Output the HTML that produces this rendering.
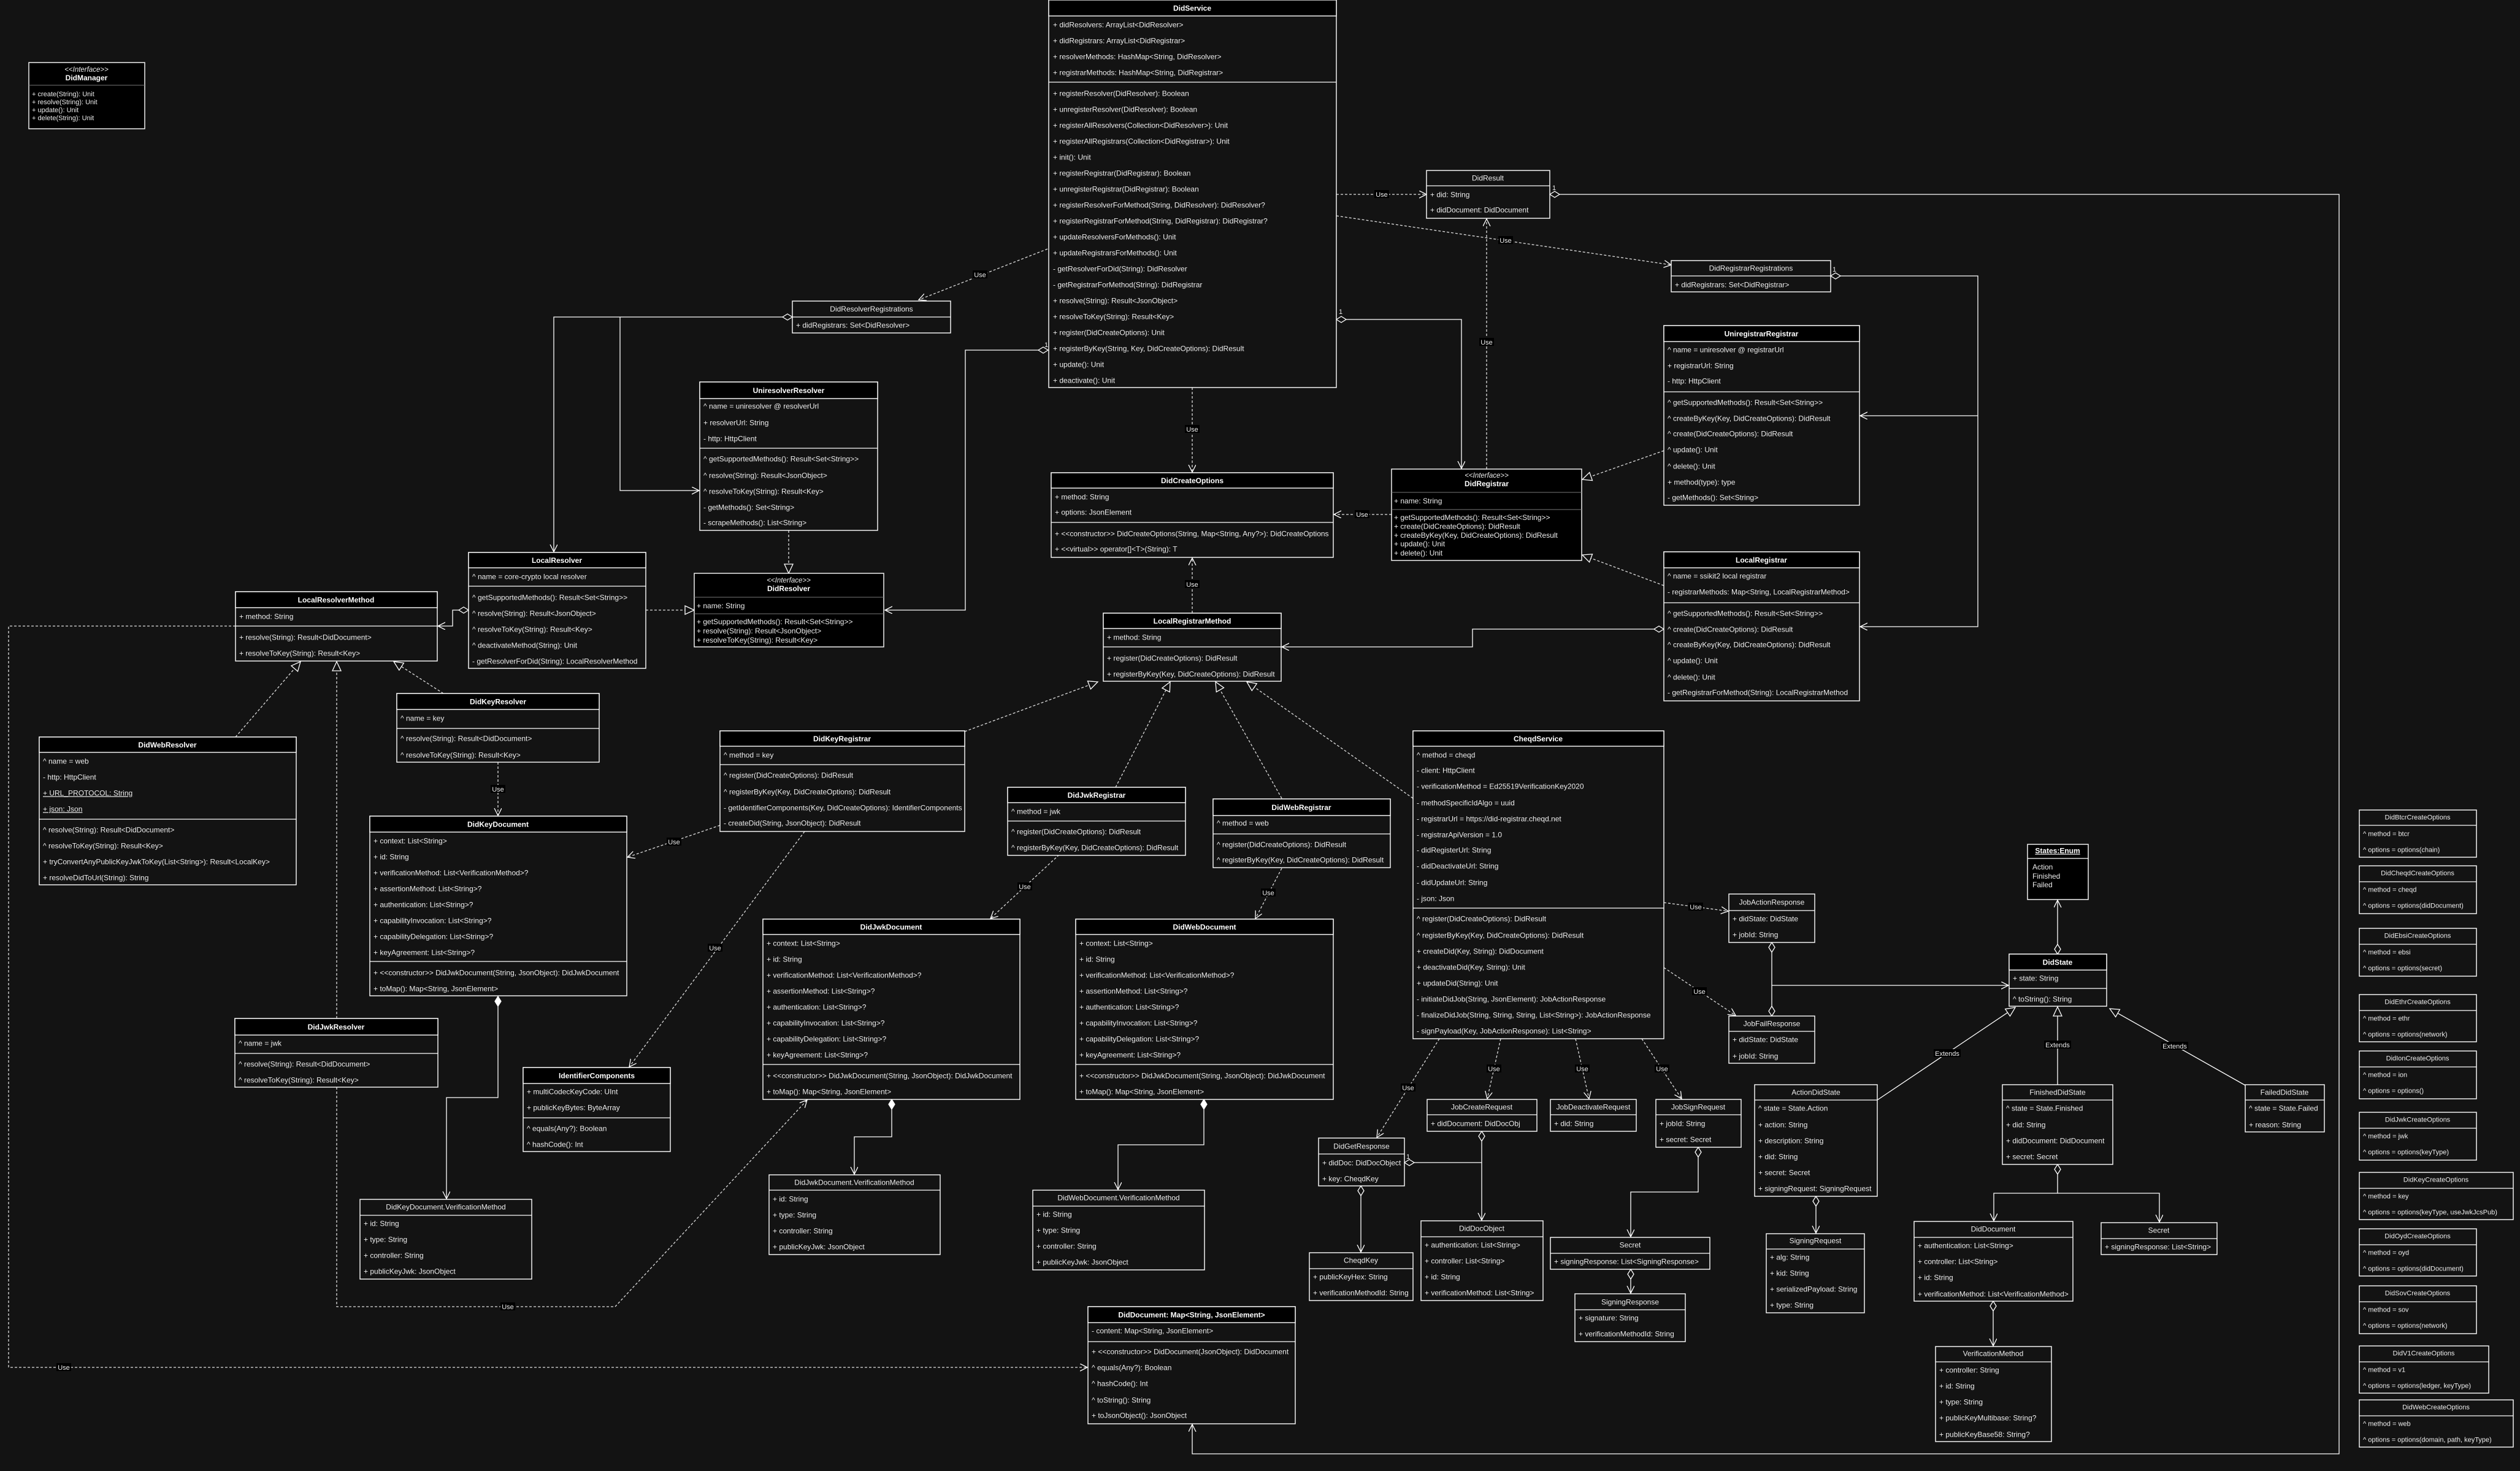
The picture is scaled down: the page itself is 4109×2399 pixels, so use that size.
<!DOCTYPE html>
<html><head><meta charset="utf-8"><style>
html,body{margin:0;padding:0;background:#131313;}
svg{display:block;}
text{font-family:"Liberation Sans",Arial,sans-serif;font-size:12px;fill:#ececec;}
.t{font-weight:bold;text-anchor:middle;fill:#fff;}
.c{text-anchor:middle;}
.bx{fill:#131313;stroke:#fff;stroke-width:1.4;}
.bk{fill:#000;stroke:#fff;stroke-width:1.4;}
.hd{fill:#000;stroke:#fff;stroke-width:1.4;}
.sp{stroke:#fff;stroke-width:1.3;}
.gl{stroke:#777;stroke-width:1;}
.s{fill:none;stroke:#fff;stroke-width:1.3;}
.d{fill:none;stroke:#ddd;stroke-width:1.3;stroke-dasharray:4 3;}
.lb{fill:#000;}
.lt{font-size:11px;text-anchor:middle;}
.one{font-size:11px;}
.sm{font-size:11px;}
.it{font-style:italic;text-anchor:middle;font-size:11.5px;}
.op text{font-size:11px;}
</style></head><body>
<svg width="4109" height="2399" viewBox="0 0 4109 2399" xmlns="http://www.w3.org/2000/svg">
<defs>
<marker id="oa" markerUnits="userSpaceOnUse" markerWidth="14" markerHeight="14" refX="12" refY="6" orient="auto"><path d="M0,0 L12,6 L0,12" fill="none" stroke="#fff" stroke-width="1.3"/></marker>
<marker id="tri" markerUnits="userSpaceOnUse" markerWidth="18" markerHeight="18" refX="16" refY="8" orient="auto"><path d="M1,1 L16,8 L1,15 z" fill="#131313" stroke="#fff" stroke-width="1.3"/></marker>
<marker id="dia" markerUnits="userSpaceOnUse" markerWidth="20" markerHeight="14" refX="1" refY="6" orient="auto"><path d="M1,6 L9,1 L17,6 L9,11 z" fill="#131313" stroke="#fff" stroke-width="1.3"/></marker>
<marker id="diae" markerUnits="userSpaceOnUse" markerWidth="20" markerHeight="14" refX="17" refY="6" orient="auto"><path d="M1,6 L9,1 L17,6 L9,11 z" fill="#131313" stroke="#fff" stroke-width="1.3"/></marker>
<marker id="fdia" markerUnits="userSpaceOnUse" markerWidth="20" markerHeight="14" refX="1" refY="6" orient="auto"><path d="M1,6 L9,1 L17,6 L9,11 z" fill="#fff" stroke="#fff" stroke-width="1.3"/></marker>
</defs>
<rect width="4109" height="2399" fill="#131313"/>

<path class="d" d="M2179,317 H2326" marker-end="url(#oa)"/>
<path class="d" d="M2179,352 L2725,432" marker-end="url(#oa)"/>
<path class="d" d="M2424,765 V357" marker-end="url(#oa)"/>
<path class="s" d="M2527,317 H3814 V2371 H1944 V2323" marker-start="url(#dia)" marker-end="url(#oa)"/>
<path class="s" d="M2179,521 H2383 V764" marker-start="url(#dia)" marker-end="url(#oa)"/>
<path class="d" d="M1708,406 L1498,489" marker-end="url(#oa)"/>
<path class="s" d="M1292,517 H903 V900" marker-start="url(#dia)" marker-end="url(#oa)"/>
<path class="s" d="M1011,517 V800 H1140" marker-end="url(#oa)"/>
<path class="s" d="M1709,571 H1574 V995 H1443" marker-start="url(#dia)" marker-end="url(#oa)"/>
<path class="d" d="M1286,865 V935" marker-end="url(#tri)"/>
<path class="d" d="M1053,995 H1132" marker-end="url(#tri)"/>
<path class="s" d="M764,995 H738 V1021 H714" marker-start="url(#dia)" marker-end="url(#oa)"/>
<path class="d" d="M384,1202 L490,1079" marker-end="url(#tri)"/>
<path class="d" d="M549,1661 V1079" marker-end="url(#tri)"/>
<path class="d" d="M723,1131 L642,1079" marker-end="url(#tri)"/>
<path class="d" d="M812,1243 V1330" marker-end="url(#oa)"/>
<path class="d" d="M384,1021 H14 V2230 H1773" marker-end="url(#oa)"/>
<path class="d" d="M549,1773 V2131 H1003 L1316,1794" marker-end="url(#oa)"/>
<path class="s" d="M812,1625 V1790 H728 V1955" marker-start="url(#fdia)" marker-end="url(#oa)"/>
<path class="s" d="M1454,1793 V1854 H1393 V1915" marker-start="url(#fdia)" marker-end="url(#oa)"/>
<path class="s" d="M1963,1793 V1867 H1823 V1940" marker-start="url(#fdia)" marker-end="url(#oa)"/>
<path class="d" d="M1174,1346 L1023,1398" marker-end="url(#oa)"/>
<path class="d" d="M1312,1356 L1026,1740" marker-end="url(#oa)"/>
<path class="d" d="M1573,1193 L1790,1112" marker-end="url(#tri)"/>
<path class="d" d="M1819,1284 L1908,1112" marker-end="url(#tri)"/>
<path class="d" d="M2090,1302 L1982,1112" marker-end="url(#tri)"/>
<path class="d" d="M2304,1302 L2033,1112" marker-end="url(#tri)"/>
<path class="d" d="M1944,1000 V910" marker-end="url(#oa)"/>
<path class="d" d="M1944,632 V770" marker-end="url(#oa)"/>
<path class="d" d="M2269,839 H2175" marker-end="url(#oa)"/>
<path class="s" d="M2713,1026 H2401 V1055 H2090" marker-start="url(#dia)" marker-end="url(#oa)"/>
<path class="d" d="M2713,735 L2580,782" marker-end="url(#tri)"/>
<path class="d" d="M2713,955 L2580,905" marker-end="url(#tri)"/>
<path class="s" d="M2985,450 H3225 V1022 H3033" marker-start="url(#dia)" marker-end="url(#oa)"/>
<path class="s" d="M3225,678 H3033" marker-end="url(#oa)"/>
<path class="d" d="M2713,1472 L2818,1486" marker-end="url(#oa)"/>
<path class="d" d="M2713,1578 L2830,1656" marker-end="url(#oa)"/>
<path class="s" d="M2889,1537 V1657" marker-start="url(#dia)" marker-end="url(#diae)"/>
<path class="s" d="M2889,1607 H3275" marker-end="url(#oa)"/>
<path class="d" d="M2347,1694 L2245,1855" marker-end="url(#oa)"/>
<path class="d" d="M2447,1694 L2425,1792" marker-end="url(#oa)"/>
<path class="d" d="M2569,1694 L2591,1792" marker-end="url(#oa)"/>
<path class="d" d="M2677,1694 L2742,1792" marker-end="url(#oa)"/>
<path class="s" d="M2416,1845 V1990" marker-start="url(#dia)" marker-end="url(#oa)"/>
<path class="s" d="M2290,1896 H2416" marker-start="url(#dia)"/>
<path class="s" d="M2219,1934 V2042" marker-start="url(#dia)" marker-end="url(#oa)"/>
<path class="s" d="M2769,1871 V1944 H2659 V2017" marker-start="url(#dia)" marker-end="url(#oa)"/>
<path class="s" d="M2659,2070 V2109" marker-start="url(#dia)" marker-end="url(#oa)"/>
<path class="s" d="M2961,1951 V2011" marker-start="url(#dia)" marker-end="url(#oa)"/>
<path class="s" d="M3061,1794 L3286,1643" marker-end="url(#tri)"/>
<path class="s" d="M3355,1769 V1642" marker-end="url(#tri)"/>
<path class="s" d="M3661,1770 L3440,1645" marker-end="url(#tri)"/>
<path class="s" d="M3355,1556 V1468" marker-start="url(#dia)" marker-end="url(#oa)"/>
<path class="s" d="M3355,1899 V1946 H3251 V1991" marker-start="url(#dia)" marker-end="url(#oa)"/>
<path class="s" d="M3355,1946 H3521 V1993" marker-end="url(#oa)"/>
<path class="s" d="M3250,2122 V2195" marker-start="url(#dia)" marker-end="url(#oa)"/>
<path class="d" d="M1727,1394 L1615,1498" marker-end="url(#oa)"/>
<path class="d" d="M2090,1416 L2047,1498" marker-end="url(#oa)"/>

<g>
<rect class="lb" x="2241" y="310" width="24" height="13"/><text class="lt" x="2253" y="321">Use</text>
<rect class="lb" x="2443" y="385" width="24" height="13"/><text class="lt" x="2455" y="396">Use</text>
<rect class="lb" x="2412" y="551" width="24" height="13"/><text class="lt" x="2424" y="562">Use</text>
<rect class="lb" x="1586" y="441" width="24" height="13"/><text class="lt" x="1598" y="452">Use</text>
<rect class="lb" x="800" y="1280" width="24" height="13"/><text class="lt" x="812" y="1291">Use</text>
<rect class="lb" x="92" y="2223" width="24" height="13"/><text class="lt" x="104" y="2234">Use</text>
<rect class="lb" x="816" y="2124" width="24" height="13"/><text class="lt" x="828" y="2135">Use</text>
<rect class="lb" x="1087" y="1366" width="24" height="13"/><text class="lt" x="1099" y="1377">Use</text>
<rect class="lb" x="1154" y="1539" width="24" height="13"/><text class="lt" x="1166" y="1550">Use</text>
<rect class="lb" x="1932" y="946" width="24" height="13"/><text class="lt" x="1944" y="957">Use</text>
<rect class="lb" x="1932" y="693" width="24" height="13"/><text class="lt" x="1944" y="704">Use</text>
<rect class="lb" x="2209" y="832" width="24" height="13"/><text class="lt" x="2221" y="843">Use</text>
<rect class="lb" x="2753" y="1472" width="24" height="13"/><text class="lt" x="2765" y="1483">Use</text>
<rect class="lb" x="2759" y="1610" width="24" height="13"/><text class="lt" x="2771" y="1621">Use</text>
<rect class="lb" x="2284" y="1767" width="24" height="13"/><text class="lt" x="2296" y="1778">Use</text>
<rect class="lb" x="2424" y="1736" width="24" height="13"/><text class="lt" x="2436" y="1747">Use</text>
<rect class="lb" x="2568" y="1736" width="24" height="13"/><text class="lt" x="2580" y="1747">Use</text>
<rect class="lb" x="2698" y="1736" width="24" height="13"/><text class="lt" x="2710" y="1747">Use</text>
<rect class="lb" x="1659" y="1439" width="24" height="13"/><text class="lt" x="1671" y="1450">Use</text>
<rect class="lb" x="2056" y="1449" width="24" height="13"/><text class="lt" x="2068" y="1460">Use</text>
<rect class="lb" x="3153" y="1711" width="44" height="13"/><text class="lt" x="3175" y="1722">Extends</text>
<rect class="lb" x="3333" y="1697" width="44" height="13"/><text class="lt" x="3355" y="1708">Extends</text>
<rect class="lb" x="3524" y="1699" width="44" height="13"/><text class="lt" x="3546" y="1710">Extends</text>
<text class="one" x="2531" y="310">1</text>
<text class="one" x="2183" y="512">1</text>
<text class="one" x="1295" y="510">1</text>
<text class="one" x="1703" y="566">1</text>
<text class="one" x="766" y="990">1</text>
<text class="one" x="2716" y="1020">1</text>
<text class="one" x="2988" y="443">1</text>
<text class="one" x="2293" y="1890">1</text>
<text class="one" x="820" y="1617">1</text>
<text class="one" x="1461" y="1787">1</text>
<text class="one" x="1970" y="1787">1</text>
</g>

<g transform="translate(47,102)">
<rect class="bk" width="189" height="108"/>
<text class="it" x="94" y="15">&lt;&lt;Interface&gt;&gt;</text>
<text class="t" x="94" y="29">DidManager</text>
<line class="gl" x1="0" y1="37" x2="189" y2="37"/>
<text class="sm" x="5" y="55">+ create(String): Unit</text>
<text class="sm" x="5" y="68">+ resolve(String): Unit</text>
<text class="sm" x="5" y="81">+ update(): Unit</text>
<text class="sm" x="5" y="94">+ delete(String): Unit</text>
</g>

<g transform="translate(1710,0)">
<rect class="bx" width="469" height="632"/><rect class="hd" width="469" height="26"/>
<text class="t" x="234" y="17.5">DidService</text>
<text x="7" y="44.5">+ didResolvers: ArrayList&lt;DidResolver&gt;</text>
<text x="7" y="70.5">+ didRegistrars: ArrayList&lt;DidRegistrar&gt;</text>
<text x="7" y="96.5">+ resolverMethods: HashMap&lt;String, DidResolver&gt;</text>
<text x="7" y="122.5">+ registrarMethods: HashMap&lt;String, DidRegistrar&gt;</text>
<line class="sp" x1="0" y1="134" x2="469" y2="134"/>
<text x="7" y="156.5">+ registerResolver(DidResolver): Boolean</text>
<text x="7" y="182.5">+ unregisterResolver(DidResolver): Boolean</text>
<text x="7" y="208.5">+ registerAllResolvers(Collection&lt;DidResolver&gt;): Unit</text>
<text x="7" y="234.5">+ registerAllRegistrars(Collection&lt;DidRegistrar&gt;): Unit</text>
<text x="7" y="260.5">+ init(): Unit</text>
<text x="7" y="286.5">+ registerRegistrar(DidRegistrar): Boolean</text>
<text x="7" y="312.5">+ unregisterRegistrar(DidRegistrar): Boolean</text>
<text x="7" y="338.5">+ registerResolverForMethod(String, DidResolver): DidResolver?</text>
<text x="7" y="364.5">+ registerRegistrarForMethod(String, DidRegistrar): DidRegistrar?</text>
<text x="7" y="390.5">+ updateResolversForMethods(): Unit</text>
<text x="7" y="416.5">+ updateRegistrarsForMethods(): Unit</text>
<text x="7" y="442.5">- getResolverForDid(String): DidResolver</text>
<text x="7" y="468.5">- getRegistrarForMethod(String): DidRegistrar</text>
<text x="7" y="494.5">+ resolve(String): Result&lt;JsonObject&gt;</text>
<text x="7" y="520.5">+ resolveToKey(String): Result&lt;Key&gt;</text>
<text x="7" y="546.5">+ register(DidCreateOptions): Unit</text>
<text x="7" y="572.5">+ registerByKey(String, Key, DidCreateOptions): DidResult</text>
<text x="7" y="598.5">+ update(): Unit</text>
<text x="7" y="624.5">+ deactivate(): Unit</text>
</g>

<g transform="translate(1292,491)">
<rect class="bx" width="258" height="52"/>
<text class="c" x="129" y="17">DidResolverRegistrations</text>
<line class="sp" x1="0" y1="26" x2="258" y2="26"/>
<text x="6" y="43.5">+ didRegistrars: Set&lt;DidResolver&gt;</text>
</g>

<g transform="translate(1141,623)">
<rect class="bx" width="290" height="242"/><rect class="hd" width="290" height="27"/>
<text class="t" x="145" y="18">UniresolverResolver</text>
<text x="6" y="43.5">^ name = uniresolver @ resolverUrl</text>
<text x="6" y="70.5">+ resolverUrl: String</text>
<text x="6" y="96.5">- http: HttpClient</text>
<line class="sp" x1="0" y1="108" x2="290" y2="108"/>
<text x="6" y="129.5">^ getSupportedMethods(): Result&lt;Set&lt;String&gt;&gt;</text>
<text x="6" y="156.5">^ resolve(String): Result&lt;JsonObject&gt;</text>
<text x="6" y="182.5">^ resolveToKey(String): Result&lt;Key&gt;</text>
<text x="6" y="208.5">- getMethods(): Set&lt;String&gt;</text>
<text x="6" y="233.5">- scrapeMethods(): List&lt;String&gt;</text>
</g>

<g transform="translate(764,901)">
<rect class="bx" width="289" height="189"/><rect class="hd" width="289" height="25"/>
<text class="t" x="144" y="17">LocalResolver</text>
<text x="6" y="43.5">^ name = core-crypto local resolver</text>
<line class="sp" x1="0" y1="55" x2="289" y2="55"/>
<text x="6" y="77.5">^ getSupportedMethods(): Result&lt;Set&lt;String&gt;&gt;</text>
<text x="6" y="103.5">^ resolve(String): Result&lt;JsonObject&gt;</text>
<text x="6" y="129.5">^ resolveToKey(String): Result&lt;Key&gt;</text>
<text x="6" y="155.5">^ deactivateMethod(String): Unit</text>
<text x="6" y="181.5">- getResolverForDid(String): LocalResolverMethod</text>
</g>

<g transform="translate(1132,935)">
<rect class="bk" width="309" height="120"/>
<text class="it" x="154" y="15">&lt;&lt;Interface&gt;&gt;</text>
<text class="t" x="154" y="29">DidResolver</text>
<line class="gl" x1="0" y1="39" x2="309" y2="39"/>
<text x="4" y="57">+ name: String</text>
<line class="gl" x1="0" y1="66" x2="309" y2="66"/>
<text x="4" y="83">+ getSupportedMethods(): Result&lt;Set&lt;String&gt;&gt;</text>
<text x="4" y="98">+ resolve(String): Result&lt;JsonObject&gt;</text>
<text x="4" y="113">+ resolveToKey(String): Result&lt;Key&gt;</text>
</g>

<g transform="translate(384,965)">
<rect class="bx" width="329" height="113"/><rect class="hd" width="329" height="26"/>
<text class="t" x="164" y="17.5">LocalResolverMethod</text>
<text x="6" y="44.5">+ method: String</text>
<line class="sp" x1="0" y1="56" x2="329" y2="56"/>
<text x="6" y="78.5">+ resolve(String): Result&lt;DidDocument&gt;</text>
<text x="6" y="104.5">+ resolveToKey(String): Result&lt;Key&gt;</text>
</g>

<g transform="translate(64,1202)">
<rect class="bx" width="419" height="241"/><rect class="hd" width="419" height="25"/>
<text class="t" x="209" y="17">DidWebResolver</text>
<text x="6" y="43.5">^ name = web</text>
<text x="6" y="69.5">- http: HttpClient</text>
<text x="6" y="95.5" text-decoration="underline">+ URL_PROTOCOL: String</text>
<text x="6" y="121.5" text-decoration="underline">+ json: Json</text>
<line class="sp" x1="0" y1="134" x2="419" y2="134"/>
<text x="6" y="155.5">^ resolve(String): Result&lt;DidDocument&gt;</text>
<text x="6" y="181.5">^ resolveToKey(String): Result&lt;Key&gt;</text>
<text x="6" y="207.5">+ tryConvertAnyPublicKeyJwkToKey(List&lt;String&gt;): Result&lt;LocalKey&gt;</text>
<text x="6" y="233.5">+ resolveDidToUrl(String): String</text>
</g>

<g transform="translate(647,1131)">
<rect class="bx" width="330" height="112"/><rect class="hd" width="330" height="26"/>
<text class="t" x="165" y="17.5">DidKeyResolver</text>
<text x="6" y="44.5">^ name = key</text>
<line class="sp" x1="0" y1="57" x2="330" y2="57"/>
<text x="6" y="77.5">^ resolve(String): Result&lt;DidDocument&gt;</text>
<text x="6" y="104.5">^ resolveToKey(String): Result&lt;Key&gt;</text>
</g>

<g transform="translate(383,1661)">
<rect class="bx" width="331" height="112"/><rect class="hd" width="331" height="27"/>
<text class="t" x="165" y="18">DidJwkResolver</text>
<text x="6" y="44.5">^ name = jwk</text>
<line class="sp" x1="0" y1="57" x2="331" y2="57"/>
<text x="6" y="78.5">^ resolve(String): Result&lt;DidDocument&gt;</text>
<text x="6" y="104.5">^ resolveToKey(String): Result&lt;Key&gt;</text>
</g>

<g transform="translate(603,1331)">
<rect class="bx" width="419" height="293"/><rect class="hd" width="419" height="26"/>
<text class="t" x="209" y="17.5">DidKeyDocument</text>
<text x="6" y="44.5">+ context: List&lt;String&gt;</text>
<text x="6" y="70.5">+ id: String</text>
<text x="6" y="96.5">+ verificationMethod: List&lt;VerificationMethod&gt;?</text>
<text x="6" y="122.5">+ assertionMethod: List&lt;String&gt;?</text>
<text x="6" y="148.5">+ authentication: List&lt;String&gt;?</text>
<text x="6" y="174.5">+ capabilityInvocation: List&lt;String&gt;?</text>
<text x="6" y="200.5">+ capabilityDelegation: List&lt;String&gt;?</text>
<text x="6" y="226.5">+ keyAgreement: List&lt;String&gt;?</text>
<line class="sp" x1="0" y1="237" x2="419" y2="237"/>
<text x="6" y="259.5">+ &lt;&lt;constructor&gt;&gt; DidJwkDocument(String, JsonObject): DidJwkDocument</text>
<text x="6" y="285.5">+ toMap(): Map&lt;String, JsonElement&gt;</text>
</g>

<g transform="translate(587,1956)">
<rect class="bx" width="280" height="130"/>
<text class="c" x="140" y="16.5">DidKeyDocument.VerificationMethod</text>
<line class="sp" x1="0" y1="26" x2="280" y2="26"/>
<text x="6" y="43.5">+ id: String</text>
<text x="6" y="69.5">+ type: String</text>
<text x="6" y="95.5">+ controller: String</text>
<text x="6" y="121.5">+ publicKeyJwk: JsonObject</text>
</g>

<g transform="translate(853,1741)">
<rect class="bx" width="240" height="137"/><rect class="hd" width="240" height="26"/>
<text class="t" x="120" y="17.5">IdentifierComponents</text>
<text x="6" y="43.5">+ multiCodecKeyCode: UInt</text>
<text x="6" y="69.5">+ publicKeyBytes: ByteArray</text>
<line class="sp" x1="0" y1="82" x2="240" y2="82"/>
<text x="6" y="103.5">^ equals(Any?): Boolean</text>
<text x="6" y="129.5">^ hashCode(): Int</text>
</g>

<g transform="translate(1244,1499)">
<rect class="bx" width="419" height="294"/><rect class="hd" width="419" height="25"/>
<text class="t" x="209" y="17">DidJwkDocument</text>
<text x="6" y="43.5">+ context: List&lt;String&gt;</text>
<text x="6" y="69.5">+ id: String</text>
<text x="6" y="95.5">+ verificationMethod: List&lt;VerificationMethod&gt;?</text>
<text x="6" y="121.5">+ assertionMethod: List&lt;String&gt;?</text>
<text x="6" y="147.5">+ authentication: List&lt;String&gt;?</text>
<text x="6" y="173.5">+ capabilityInvocation: List&lt;String&gt;?</text>
<text x="6" y="199.5">+ capabilityDelegation: List&lt;String&gt;?</text>
<text x="6" y="225.5">+ keyAgreement: List&lt;String&gt;?</text>
<line class="sp" x1="0" y1="237" x2="419" y2="237"/>
<text x="6" y="259.5">+ &lt;&lt;constructor&gt;&gt; DidJwkDocument(String, JsonObject): DidJwkDocument</text>
<text x="6" y="285.5">+ toMap(): Map&lt;String, JsonElement&gt;</text>
</g>

<g transform="translate(1754,1499)">
<rect class="bx" width="420" height="294"/><rect class="hd" width="420" height="25"/>
<text class="t" x="210" y="17">DidWebDocument</text>
<text x="6" y="43.5">+ context: List&lt;String&gt;</text>
<text x="6" y="69.5">+ id: String</text>
<text x="6" y="95.5">+ verificationMethod: List&lt;VerificationMethod&gt;?</text>
<text x="6" y="121.5">+ assertionMethod: List&lt;String&gt;?</text>
<text x="6" y="147.5">+ authentication: List&lt;String&gt;?</text>
<text x="6" y="173.5">+ capabilityInvocation: List&lt;String&gt;?</text>
<text x="6" y="199.5">+ capabilityDelegation: List&lt;String&gt;?</text>
<text x="6" y="225.5">+ keyAgreement: List&lt;String&gt;?</text>
<line class="sp" x1="0" y1="237" x2="420" y2="237"/>
<text x="6" y="259.5">+ &lt;&lt;constructor&gt;&gt; DidJwkDocument(String, JsonObject): DidJwkDocument</text>
<text x="6" y="285.5">+ toMap(): Map&lt;String, JsonElement&gt;</text>
</g>

<g transform="translate(1254,1916)">
<rect class="bx" width="279" height="130"/>
<text class="c" x="139" y="16.5">DidJwkDocument.VerificationMethod</text>
<line class="sp" x1="0" y1="25" x2="279" y2="25"/>
<text x="6" y="43.5">+ id: String</text>
<text x="6" y="69.5">+ type: String</text>
<text x="6" y="95.5">+ controller: String</text>
<text x="6" y="121.5">+ publicKeyJwk: JsonObject</text>
</g>

<g transform="translate(1684,1941)">
<rect class="bx" width="280" height="130"/>
<text class="c" x="140" y="16.5">DidWebDocument.VerificationMethod</text>
<line class="sp" x1="0" y1="26" x2="280" y2="26"/>
<text x="6" y="43.5">+ id: String</text>
<text x="6" y="69.5">+ type: String</text>
<text x="6" y="95.5">+ controller: String</text>
<text x="6" y="121.5">+ publicKeyJwk: JsonObject</text>
</g>

<g transform="translate(1774,2131)">
<rect class="bx" width="338" height="191"/><rect class="hd" width="338" height="26"/>
<text class="t" x="169" y="17.5">DidDocument: Map&lt;String, JsonElement&gt;</text>
<text x="6" y="43.5">- content: Map&lt;String, JsonElement&gt;</text>
<line class="sp" x1="0" y1="57" x2="338" y2="57"/>
<text x="6" y="77.5">+ &lt;&lt;constructor&gt;&gt; DidDocument(JsonObject): DidDocument</text>
<text x="6" y="103.5">^ equals(Any?): Boolean</text>
<text x="6" y="129.5">^ hashCode(): Int</text>
<text x="6" y="156.5">^ toString(): String</text>
<text x="6" y="181.5">+ toJsonObject(): JsonObject</text>
</g>

<g transform="translate(1174,1192)">
<rect class="bx" width="399" height="164"/><rect class="hd" width="399" height="25"/>
<text class="t" x="199" y="17">DidKeyRegistrar</text>
<text x="6" y="43.5">^ method = key</text>
<line class="sp" x1="0" y1="55" x2="399" y2="55"/>
<text x="6" y="76.5">^ register(DidCreateOptions): DidResult</text>
<text x="6" y="103.5">^ registerByKey(Key, DidCreateOptions): DidResult</text>
<text x="6" y="129.5">- getIdentifierComponents(Key, DidCreateOptions): IdentifierComponents</text>
<text x="6" y="154.5">- createDid(String, JsonObject): DidResult</text>
</g>

<g transform="translate(1714,771)">
<rect class="bx" width="460" height="138"/><rect class="hd" width="460" height="25"/>
<text class="t" x="230" y="17">DidCreateOptions</text>
<text x="6" y="43.5">+ method: String</text>
<text x="6" y="68.5">+ options: JsonElement</text>
<line class="sp" x1="0" y1="81" x2="460" y2="81"/>
<text x="6" y="103.5">+ &lt;&lt;constructor&gt;&gt; DidCreateOptions(String, Map&lt;String, Any?&gt;): DidCreateOptions</text>
<text x="6" y="128.5">+ &lt;&lt;virtual&gt;&gt; operator[]&lt;T&gt;(String): T</text>
</g>

<g transform="translate(2269,765)">
<rect class="bk" width="310" height="149"/>
<text class="it" x="155" y="14">&lt;&lt;Interface&gt;&gt;</text>
<text class="t" x="155" y="28">DidRegistrar</text>
<line class="gl" x1="0" y1="38" x2="310" y2="38"/>
<text x="4" y="56">+ name: String</text>
<line class="gl" x1="0" y1="66" x2="310" y2="66"/>
<text x="4" y="83">+ getSupportedMethods(): Result&lt;Set&lt;String&gt;&gt;</text>
<text x="4" y="97.5">+ create(DidCreateOptions): DidResult</text>
<text x="4" y="112">+ createByKey(Key, DidCreateOptions): DidResult</text>
<text x="4" y="126">+ update(): Unit</text>
<text x="4" y="141">+ delete(): Unit</text>
</g>

<g transform="translate(1799,1000)">
<rect class="bx" width="290" height="111"/><rect class="hd" width="290" height="25"/>
<text class="t" x="145" y="17">LocalRegistrarMethod</text>
<text x="6" y="43.5">+ method: String</text>
<line class="sp" x1="0" y1="55" x2="290" y2="55"/>
<text x="6" y="77.5">+ register(DidCreateOptions): DidResult</text>
<text x="6" y="103.5">+ registerByKey(Key, DidCreateOptions): DidResult</text>
</g>

<g transform="translate(1643,1284)">
<rect class="bx" width="290" height="111"/><rect class="hd" width="290" height="25"/>
<text class="t" x="145" y="17">DidJwkRegistrar</text>
<text x="6" y="43.5">^ method = jwk</text>
<line class="sp" x1="0" y1="55" x2="290" y2="55"/>
<text x="6" y="76.5">^ register(DidCreateOptions): DidResult</text>
<text x="6" y="102.5">^ registerByKey(Key, DidCreateOptions): DidResult</text>
</g>

<g transform="translate(1978,1303)">
<rect class="bx" width="289" height="112"/><rect class="hd" width="289" height="27"/>
<text class="t" x="144" y="18">DidWebRegistrar</text>
<text x="6" y="43.5">^ method = web</text>
<line class="sp" x1="0" y1="57" x2="289" y2="57"/>
<text x="6" y="78.5">^ register(DidCreateOptions): DidResult</text>
<text x="6" y="103.5">^ registerByKey(Key, DidCreateOptions): DidResult</text>
</g>

<g transform="translate(2304,1192)">
<rect class="bx" width="409" height="502"/><rect class="hd" width="409" height="25"/>
<text class="t" x="204" y="17">CheqdService</text>
<text x="6" y="43.5">^ method = cheqd</text>
<text x="6" y="68.5">- client: HttpClient</text>
<text x="6" y="94.5">- verificationMethod = Ed25519VerificationKey2020</text>
<text x="6" y="121.5">- methodSpecificIdAlgo = uuid</text>
<text x="6" y="147.5">- registrarUrl = https://did-registrar.cheqd.net</text>
<text x="6" y="173.5">- registrarApiVersion = 1.0</text>
<text x="6" y="198.5">- didRegisterUrl: String</text>
<text x="6" y="224.5">- didDeactivateUrl: String</text>
<text x="6" y="251.5">- didUpdateUrl: String</text>
<text x="6" y="277.5">- json: Json</text>
<line class="sp" x1="0" y1="289" x2="409" y2="289"/>
<text x="6" y="310.5">^ register(DidCreateOptions): DidResult</text>
<text x="6" y="337.5">^ registerByKey(Key, DidCreateOptions): DidResult</text>
<text x="6" y="363.5">+ createDid(Key, String): DidDocument</text>
<text x="6" y="389.5">+ deactivateDid(Key, String): Unit</text>
<text x="6" y="415.5">+ updateDid(String): Unit</text>
<text x="6" y="441.5">- initiateDidJob(String, JsonElement): JobActionResponse</text>
<text x="6" y="467.5">- finalizeDidJob(String, String, String, List&lt;String&gt;): JobActionResponse</text>
<text x="6" y="493.5">- signPayload(Key, JobActionResponse): List&lt;String&gt;</text>
</g>

<g transform="translate(2326,278)">
<rect class="bx" width="201" height="78"/>
<text class="c" x="100" y="16.5">DidResult</text>
<line class="sp" x1="0" y1="25" x2="201" y2="25"/>
<text x="6" y="43.5">+ did: String</text>
<text x="6" y="68.5">+ didDocument: DidDocument</text>
</g>

<g transform="translate(2725,425)">
<rect class="bx" width="260" height="51"/>
<text class="c" x="130" y="16.5">DidRegistrarRegistrations</text>
<line class="sp" x1="0" y1="25" x2="260" y2="25"/>
<text x="6" y="43.5">+ didRegistrars: Set&lt;DidRegistrar&gt;</text>
</g>

<g transform="translate(2713,531)">
<rect class="bx" width="319" height="293"/><rect class="hd" width="319" height="26"/>
<text class="t" x="159" y="17.5">UniregistrarRegistrar</text>
<text x="6" y="43.5">^ name = uniresolver @ registrarUrl</text>
<text x="6" y="69.5">+ registrarUrl: String</text>
<text x="6" y="94.5">- http: HttpClient</text>
<line class="sp" x1="0" y1="108" x2="319" y2="108"/>
<text x="6" y="129.5">^ getSupportedMethods(): Result&lt;Set&lt;String&gt;&gt;</text>
<text x="6" y="155.5">^ createByKey(Key, DidCreateOptions): DidResult</text>
<text x="6" y="180.5">^ create(DidCreateOptions): DidResult</text>
<text x="6" y="206.5">^ update(): Unit</text>
<text x="6" y="233.5">^ delete(): Unit</text>
<text x="6" y="259.5">+ method(type): type</text>
<text x="6" y="284.5">- getMethods(): Set&lt;String&gt;</text>
</g>

<g transform="translate(2713,900)">
<rect class="bx" width="319" height="243"/><rect class="hd" width="319" height="26"/>
<text class="t" x="159" y="17.5">LocalRegistrar</text>
<text x="6" y="43.5">^ name = ssikit2 local registrar</text>
<text x="6" y="69.5">- registrarMethods: Map&lt;String, LocalRegistrarMethod&gt;</text>
<line class="sp" x1="0" y1="83" x2="319" y2="83"/>
<text x="6" y="104.5">^ getSupportedMethods(): Result&lt;Set&lt;String&gt;&gt;</text>
<text x="6" y="130.5">^ create(DidCreateOptions): DidResult</text>
<text x="6" y="155.5">^ createByKey(Key, DidCreateOptions): DidResult</text>
<text x="6" y="181.5">^ update(): Unit</text>
<text x="6" y="208.5">^ delete(): Unit</text>
<text x="6" y="233.5">- getRegistrarForMethod(String): LocalRegistrarMethod</text>
</g>

<g transform="translate(2819,1458)">
<rect class="bx" width="140" height="79"/>
<text class="c" x="70" y="17.5">JobActionResponse</text>
<line class="sp" x1="0" y1="27" x2="140" y2="27"/>
<text x="6" y="44.5">+ didState: DidState</text>
<text x="6" y="70.5">+ jobId: String</text>
</g>

<g transform="translate(2819,1657)">
<rect class="bx" width="140" height="77"/>
<text class="c" x="70" y="16.5">JobFailResponse</text>
<line class="sp" x1="0" y1="25" x2="140" y2="25"/>
<text x="6" y="42.5">+ didState: DidState</text>
<text x="6" y="69.5">+ jobId: String</text>
</g>

<g transform="translate(2150,1856)">
<rect class="bx" width="140" height="78"/>
<text class="c" x="70" y="17.5">DidGetResponse</text>
<line class="sp" x1="0" y1="26" x2="140" y2="26"/>
<text x="6" y="44.5">+ didDoc: DidDocObject</text>
<text x="6" y="70.5">+ key: CheqdKey</text>
</g>

<g transform="translate(2327,1793)">
<rect class="bx" width="179" height="52"/>
<text class="c" x="89" y="16.5">JobCreateRequest</text>
<line class="sp" x1="0" y1="25" x2="179" y2="25"/>
<text x="6" y="43.5">+ didDocument: DidDocObj</text>
</g>

<g transform="translate(2528,1793)">
<rect class="bx" width="140" height="52"/>
<text class="c" x="70" y="16.5">JobDeactivateRequest</text>
<line class="sp" x1="0" y1="25" x2="140" y2="25"/>
<text x="6" y="43.5">+ did: String</text>
</g>

<g transform="translate(2700,1793)">
<rect class="bx" width="139" height="78"/>
<text class="c" x="69" y="16.5">JobSignRequest</text>
<line class="sp" x1="0" y1="25" x2="139" y2="25"/>
<text x="6" y="43.5">+ jobId: String</text>
<text x="6" y="69.5">+ secret: Secret</text>
</g>

<g transform="translate(2135,2043)">
<rect class="bx" width="169" height="78"/>
<text class="c" x="84" y="16.5">CheqdKey</text>
<line class="sp" x1="0" y1="26" x2="169" y2="26"/>
<text x="6" y="43.5">+ publicKeyHex: String</text>
<text x="6" y="69.5">+ verificationMethodId: String</text>
</g>

<g transform="translate(2317,1991)">
<rect class="bx" width="199" height="130"/>
<text class="c" x="99" y="16.5">DidDocObject</text>
<line class="sp" x1="0" y1="26" x2="199" y2="26"/>
<text x="6" y="43.5">+ authentication: List&lt;String&gt;</text>
<text x="6" y="69.5">+ controller: List&lt;String&gt;</text>
<text x="6" y="95.5">+ id: String</text>
<text x="6" y="121.5">+ verificationMethod: List&lt;String&gt;</text>
</g>

<g transform="translate(2528,2018)">
<rect class="bx" width="260" height="52"/>
<text class="c" x="130" y="16.5">Secret</text>
<line class="sp" x1="0" y1="26" x2="260" y2="26"/>
<text x="6" y="43.5">+ signingResponse: List&lt;SigningResponse&gt;</text>
</g>

<g transform="translate(2568,2110)">
<rect class="bx" width="180" height="78"/>
<text class="c" x="90" y="17.5">SigningResponse</text>
<line class="sp" x1="0" y1="26" x2="180" y2="26"/>
<text x="6" y="43.5">+ signature: String</text>
<text x="6" y="69.5">+ verificationMethodId: String</text>
</g>

<g transform="translate(2861,1769)">
<rect class="bx" width="200" height="182"/>
<text class="c" x="100" y="16.5">ActionDidState</text>
<line class="sp" x1="0" y1="25" x2="200" y2="25"/>
<text x="6" y="42.5">^ state = State.Action</text>
<text x="6" y="69.5">+ action: String</text>
<text x="6" y="95.5">+ description: String</text>
<text x="6" y="121.5">+ did: String</text>
<text x="6" y="147.5">+ secret: Secret</text>
<text x="6" y="173.5">+ signingRequest: SigningRequest</text>
</g>

<g transform="translate(2880,2012)">
<rect class="bx" width="160" height="129"/>
<text class="c" x="80" y="15.5">SigningRequest</text>
<line class="sp" x1="0" y1="25" x2="160" y2="25"/>
<text x="6" y="42.5">+ alg: String</text>
<text x="6" y="68.5">+ kid: String</text>
<text x="6" y="94.5">+ serializedPayload: String</text>
<text x="6" y="120.5">+ type: String</text>
</g>

<g transform="translate(3306,1377)">
<rect class="bk" width="99" height="90"/>
<text class="t" x="49" y="14.5" text-decoration="underline">States:Enum</text>
<line class="sp" x1="0" y1="23" x2="99" y2="23"/>
<text x="8" y="41">Action</text>
<text x="8" y="56">Finished</text>
<text x="8" y="70">Failed</text>
</g>

<g transform="translate(3276,1556)">
<rect class="bx" width="159" height="85"/><rect class="hd" width="159" height="26"/>
<text class="t" x="79" y="17.5">DidState</text>
<text x="6" y="43.5">+ state: String</text>
<line class="sp" x1="0" y1="56" x2="159" y2="56"/>
<text x="6" y="77.5">^ toString(): String</text>
</g>

<g transform="translate(3265,1769)">
<rect class="bx" width="180" height="130"/>
<text class="c" x="90" y="16.5">FinishedDidState</text>
<line class="sp" x1="0" y1="25" x2="180" y2="25"/>
<text x="6" y="42.5">^ state = State.Finished</text>
<text x="6" y="69.5">+ did: String</text>
<text x="6" y="95.5">+ didDocument: DidDocument</text>
<text x="6" y="121.5">+ secret: Secret</text>
</g>

<g transform="translate(3661,1769)">
<rect class="bx" width="129" height="77"/>
<text class="c" x="64" y="16.5">FailedDidState</text>
<line class="sp" x1="0" y1="25" x2="129" y2="25"/>
<text x="6" y="42.5">^ state = State.Failed</text>
<text x="6" y="69.5">+ reason: String</text>
</g>

<g transform="translate(3121,1992)">
<rect class="bx" width="259" height="130"/>
<text class="c" x="129" y="16.5">DidDocument</text>
<line class="sp" x1="0" y1="26" x2="259" y2="26"/>
<text x="6" y="43.5">+ authentication: List&lt;String&gt;</text>
<text x="6" y="69.5">+ controller: List&lt;String&gt;</text>
<text x="6" y="95.5">+ id: String</text>
<text x="6" y="122.5">+ verificationMethod: List&lt;VerificationMethod&gt;</text>
</g>

<g transform="translate(3426,1994)">
<rect class="bx" width="189" height="52"/>
<text class="c" x="94" y="16.5">Secret</text>
<line class="sp" x1="0" y1="26" x2="189" y2="26"/>
<text x="6" y="43.5">+ signingResponse: List&lt;String&gt;</text>
</g>

<g transform="translate(3156,2196)">
<rect class="bx" width="189" height="155"/>
<text class="c" x="94" y="15.5">VerificationMethod</text>
<line class="sp" x1="0" y1="25" x2="189" y2="25"/>
<text x="6" y="42.5">+ controller: String</text>
<text x="6" y="68.5">+ id: String</text>
<text x="6" y="94.5">+ type: String</text>
<text x="6" y="120.5">+ publicKeyMultibase: String?</text>
<text x="6" y="147.5">+ publicKeyBase58: String?</text>
</g>

<g class="op">
<g transform="translate(3847,1321)"><rect class="bx" width="191" height="77"/><text class="c" x="95" y="15.5">DidBtcrCreateOptions</text><line class="sp" x1="0" y1="25" x2="191" y2="25"/><text x="6" y="42.5">^ method = btcr</text><text x="6" y="68.5">^ options = options(chain)</text></g>
<g transform="translate(3847,1412)"><rect class="bx" width="191" height="78"/><text class="c" x="95" y="15.5">DidCheqdCreateOptions</text><line class="sp" x1="0" y1="26" x2="191" y2="26"/><text x="6" y="42.5">^ method = cheqd</text><text x="6" y="68.5">^ options = options(didDocument)</text></g>
<g transform="translate(3847,1514)"><rect class="bx" width="191" height="78"/><text class="c" x="95" y="15.5">DidEbsiCreateOptions</text><line class="sp" x1="0" y1="26" x2="191" y2="26"/><text x="6" y="42.5">^ method = ebsi</text><text x="6" y="68.5">^ options = options(secret)</text></g>
<g transform="translate(3847,1622)"><rect class="bx" width="191" height="77"/><text class="c" x="95" y="15.5">DidEthrCreateOptions</text><line class="sp" x1="0" y1="26" x2="191" y2="26"/><text x="6" y="42.5">^ method = ethr</text><text x="6" y="68.5">^ options = options(network)</text></g>
<g transform="translate(3847,1714)"><rect class="bx" width="191" height="78"/><text class="c" x="95" y="15.5">DidIonCreateOptions</text><line class="sp" x1="0" y1="26" x2="191" y2="26"/><text x="6" y="42.5">^ method = ion</text><text x="6" y="68.5">^ options = options()</text></g>
<g transform="translate(3847,1814)"><rect class="bx" width="191" height="78"/><text class="c" x="95" y="15.5">DidJwkCreateOptions</text><line class="sp" x1="0" y1="26" x2="191" y2="26"/><text x="6" y="42.5">^ method = jwk</text><text x="6" y="68.5">^ options = options(keyType)</text></g>
<g transform="translate(3847,1912)"><rect class="bx" width="251" height="77"/><text class="c" x="125" y="15.5">DidKeyCreateOptions</text><line class="sp" x1="0" y1="26" x2="251" y2="26"/><text x="6" y="42.5">^ method = key</text><text x="6" y="68.5">^ options = options(keyType, useJwkJcsPub)</text></g>
<g transform="translate(3847,2004)"><rect class="bx" width="191" height="77"/><text class="c" x="95" y="15.5">DidOydCreateOptions</text><line class="sp" x1="0" y1="26" x2="191" y2="26"/><text x="6" y="42.5">^ method = oyd</text><text x="6" y="68.5">^ options = options(didDocument)</text></g>
<g transform="translate(3847,2097)"><rect class="bx" width="191" height="78"/><text class="c" x="95" y="15.5">DidSovCreateOptions</text><line class="sp" x1="0" y1="26" x2="191" y2="26"/><text x="6" y="42.5">^ method = sov</text><text x="6" y="68.5">^ options = options(network)</text></g>
<g transform="translate(3847,2195)"><rect class="bx" width="211" height="77"/><text class="c" x="105" y="15.5">DidV1CreateOptions</text><line class="sp" x1="0" y1="26" x2="211" y2="26"/><text x="6" y="42.5">^ method = v1</text><text x="6" y="68.5">^ options = options(ledger, keyType)</text></g>
<g transform="translate(3847,2283)"><rect class="bx" width="251" height="77"/><text class="c" x="125" y="15.5">DidWebCreateOptions</text><line class="sp" x1="0" y1="26" x2="251" y2="26"/><text x="6" y="42.5">^ method = web</text><text x="6" y="68.5">^ options = options(domain, path, keyType)</text></g>
</g>
</svg>
</body></html>
